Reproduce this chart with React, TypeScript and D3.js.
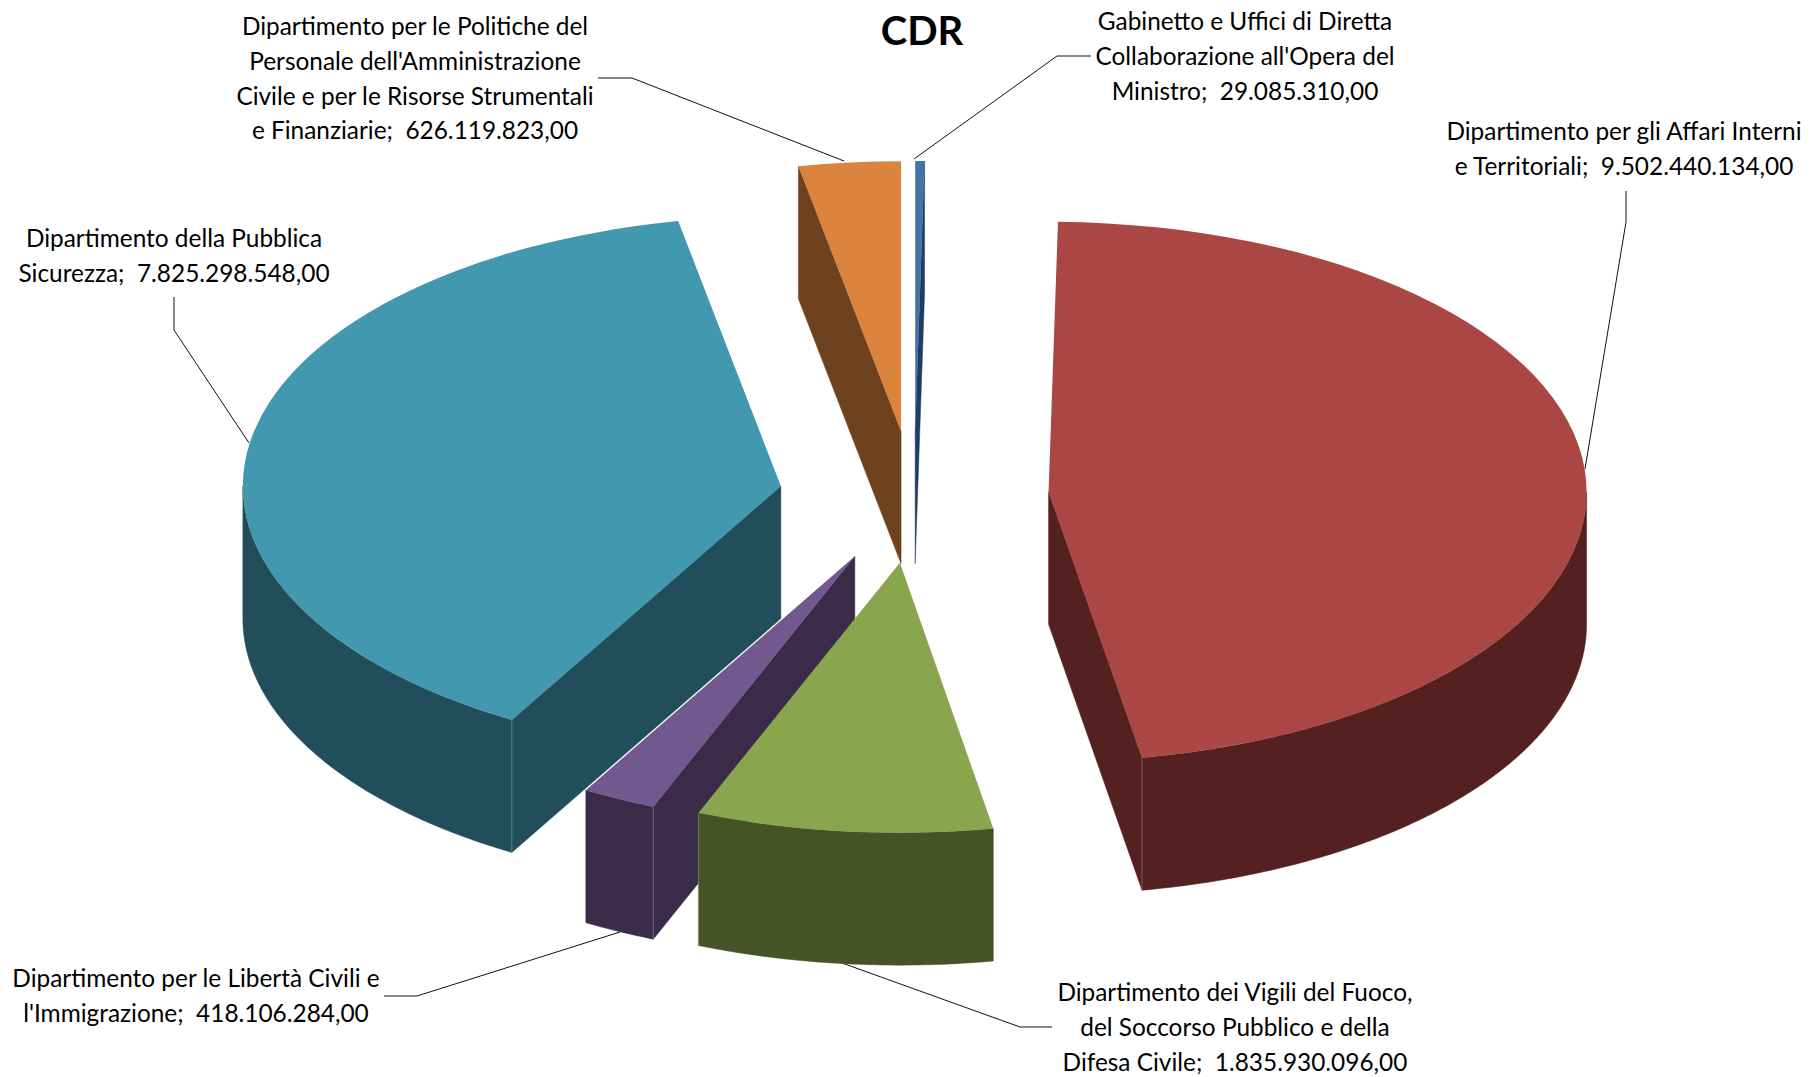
import * as d3 from "d3";

const categories = [
  "Gabinetto e Uffici di Diretta Collaborazione all'Opera del Ministro",
  "Dipartimento per gli Affari Interni e Territoriali",
  "Dipartimento dei Vigili del Fuoco, del Soccorso Pubblico e della Difesa Civile",
  "Dipartimento per le Libertà Civili e l'Immigrazione",
  "Dipartimento della Pubblica Sicurezza",
  "Dipartimento per le Politiche del Personale dell'Amministrazione Civile e per le Risorse Strumentali e Finanziarie",
];
const values = [29085310, 9502440134, 1835930096, 418106284, 7825298548, 626119823];
const topColors = ["#4572A7", "#AA4643", "#89A54E", "#71588F", "#4198AF", "#DB843D"];
const sideColors = ["#1F3D5E", "#542120", "#465327", "#3A2B49", "#224E5B", "#6E421E"];

// label lines, same order as the values
const labelLines = [
  ["Gabinetto e Uffici di Diretta", "Collaborazione all'Opera del", "Ministro;  29.085.310,00"],
  ["Dipartimento per gli Affari Interni", "e Territoriali;  9.502.440.134,00"],
  ["Dipartimento dei Vigili del Fuoco,", "del Soccorso Pubblico e della", "Difesa Civile;  1.835.930.096,00"],
  ["Dipartimento per le Libertà Civili e", "l'Immigrazione;  418.106.284,00"],
  ["Dipartimento della Pubblica", "Sicurezza;  7.825.298.548,00"],
  ["Dipartimento per le Politiche del", "Personale dell'Amministrazione", "Civile e per le Risorse Strumentali", "e Finanziarie;  626.119.823,00"],
];
const labelPos = [
  { x: 1245, y: 30 },
  { x: 1624, y: 140 },
  { x: 1235, y: 1001 },
  { x: 196, y: 987 },
  { x: 174, y: 247 },
  { x: 415, y: 35 },
];
const leaders = [
  [[1091, 56], [1057, 56], [914, 159]],
  [[1626, 191], [1626, 222], [1585, 469]],
  [[1052, 1027], [1020, 1027], [842, 963]],
  [[384, 996], [417, 996], [620, 932]],
  [[174, 297], [174, 330], [249, 443]],
  [[598, 78], [632, 78], [844, 161]],
];

const width = 1814;
const height = 1077;
const cx = 914;
const cy = 497;
const rx = 538;
const ry = 270;
const squash = ry / rx;
const explode = 135;
const explodeY = 66;
const depth = 132.5;

// the chart snaps slice edges to whole degrees
const deg = Math.PI / 180;
const slices = d3.pie<number>().sort(null)(values);
slices.forEach((s) => {
  s.startAngle = Math.round(s.startAngle / deg) * deg;
  s.endAngle = Math.round(s.endAngle / deg) * deg;
});

const arc = d3.arc<any>().innerRadius(0).outerRadius(rx);
const line = d3.line();

// back slices first, front ones last
const drawOrder = [5, 0, 4, 1, 3, 2];

function Slice({ i }: { i: number }) {
  const s = slices[i];
  const mid = (s.startAngle + s.endAngle) / 2;
  const ox = cx + explode * Math.sin(mid);
  const oy = cy - explodeY * Math.cos(mid);
  const pt = (a: number, dy = 0): [number, number] => [
    ox + rx * Math.sin(a),
    oy - ry * Math.cos(a) + dy,
  ];
  const wall = (a: number) =>
    line([[ox, oy], pt(a), pt(a, depth), [ox, oy + depth]]) + "Z";

  const from = Math.max(s.startAngle, Math.PI / 2);
  const to = Math.min(s.endAngle, (3 * Math.PI) / 2);
  let rim: string | null = null;
  if (to > from) {
    const angles = [...d3.range(from, to, 0.01), to];
    rim = line([...angles.map((a) => pt(a)), ...angles.reverse().map((a) => pt(a, depth))]) + "Z";
  }
  const startFront = Math.sin(s.startAngle) < 0;
  const endFront = Math.sin(s.endAngle) > 0;
  const side = sideColors[i];
  const corner = startFront ? s.startAngle : s.endAngle;

  return (
    <g>
      {startFront && <path d={wall(s.startAngle)} fill={side} stroke={side} strokeWidth={0.5} />}
      {endFront && <path d={wall(s.endAngle)} fill={side} stroke={side} strokeWidth={0.5} />}
      {rim && <path d={rim} fill={side} stroke={side} strokeWidth={0.5} />}
      {rim && corner >= from && corner <= to && (
        <line
          x1={pt(corner)[0]}
          y1={pt(corner)[1]}
          x2={pt(corner)[0]}
          y2={pt(corner, depth)[1]}
          stroke="#fff"
          strokeOpacity={0.25}
        />
      )}
      <path
        d={arc(s) as string}
        transform={`translate(${ox},${oy}) scale(1,${squash})`}
        fill={topColors[i]}
      />
    </g>
  );
}

export default function App() {
  return (
    <svg
      width={width}
      height={height}
      viewBox={`0 0 ${width} ${height}`}
      style={{ position: "absolute", left: 0, top: 0, background: "#fff" }}
    >
      {leaders.map((l, i) => (
        <path key={i} d={line(l as [number, number][]) as string} fill="none" stroke="#111" strokeWidth={1} />
      ))}
      {drawOrder.map((i) => (
        <Slice key={i} i={i} />
      ))}
      {labelLines.map((lines, i) => (
        <text
          key={categories[i]}
          textAnchor="middle"
          fontFamily="Lato"
          fontSize={24.4}
          fill="#000"
          style={{ whiteSpace: "pre" }}
        >
          {lines.map((t, j) => (
            <tspan key={j} x={labelPos[i].x} y={labelPos[i].y + j * 34.8}>
              {t}
            </tspan>
          ))}
        </text>
      ))}
      <text x={922} y={45} textAnchor="middle" fontFamily="Lato" fontWeight={700} fontSize={40} fill="#000">
        CDR
      </text>
    </svg>
  );
}
